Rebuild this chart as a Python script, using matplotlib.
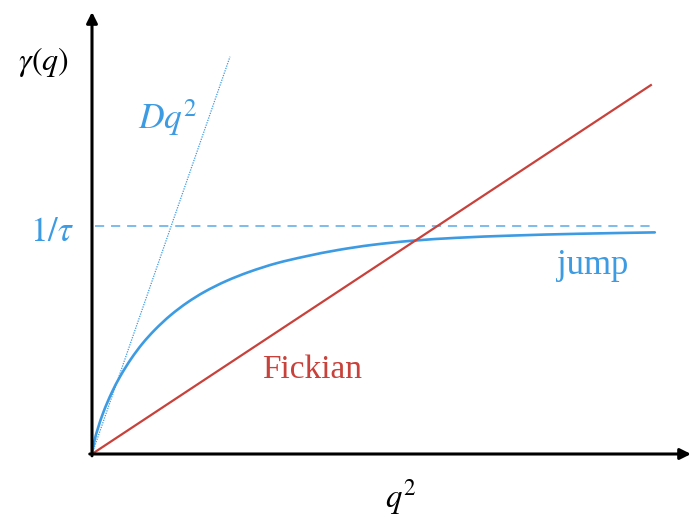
import matplotlib
matplotlib.use("Agg")
import matplotlib.pyplot as plt
import numpy as np
from matplotlib.path import Path
from matplotlib.patches import PathPatch

plt.rcParams["mathtext.fontset"] = "stix"

# Fickian and jump-diffusion relaxation rates gamma(q) vs q^2 (arbitrary units)
q2_jump = [0.0, 0.004, 0.01, 0.02, 0.035, 0.05, 0.07, 0.09, 0.112, 0.14,
           0.17, 0.2, 0.24, 0.28, 0.33, 0.38, 0.44, 0.5, 0.57, 0.65, 0.75,
           0.87, 1.005]
gamma_jump = [0.0, 0.054, 0.108, 0.181, 0.268, 0.339, 0.418, 0.484, 0.544,
              0.608, 0.664, 0.710, 0.759, 0.798, 0.837, 0.866, 0.895, 0.917,
              0.935, 0.948, 0.958, 0.966, 0.972]

q2_fick = [0.0, 0.998]
gamma_fick = [0.0, 1.618]

q2_dq2 = [0.0, 0.2464]
gamma_dq2 = [0.0, 1.7425]

inv_tau = 1.0
q2_tau = [0.005, 1.0]

BLUE = "#3c9be3"
RED = "#c8413a"


def smooth_path(x, y):
    """Cubic Bezier path through the points with monotone Hermite tangents."""
    x = np.asarray(x, float)
    y = np.asarray(y, float)
    h = np.diff(x)
    s = np.diff(y) / h
    m = np.empty_like(x)
    m[0], m[-1] = s[0], s[-1]
    for i in range(1, len(x) - 1):
        if s[i - 1] * s[i] <= 0:
            m[i] = 0.0
        else:
            w1, w2 = 2 * h[i] + h[i - 1], h[i] + 2 * h[i - 1]
            m[i] = (w1 + w2) / (w1 / s[i - 1] + w2 / s[i])
    verts = [(x[0], y[0])]
    codes = [Path.MOVETO]
    for i in range(len(x) - 1):
        d = h[i] / 3
        verts += [(x[i] + d, y[i] + d * m[i]),
                  (x[i + 1] - d, y[i + 1] - d * m[i + 1]),
                  (x[i + 1], y[i + 1])]
        codes += [Path.CURVE4] * 3
    return Path(verts, codes)


W, H = 691, 517
fig = plt.figure(figsize=(W / 100, H / 100), dpi=100)

x0, y0 = 92, 454          # origin (pixels)
sx, sy = 560.0, 228.0     # pixels per data unit
ax = fig.add_axes([x0 / W, (H - y0) / H, (W - x0) / W, (y0 - 12) / H])
xmax = (W - x0) / sx
ymax = (y0 - 12) / sy
ax.set_xlim(0, xmax)
ax.set_ylim(0, ymax)
ax.axis("off")
ax.patch.set_alpha(0)

ax.plot(q2_dq2, gamma_dq2, color=BLUE, lw=0.9, ls=(0, (1, 1)), clip_on=False)
ax.plot(q2_tau, [inv_tau, inv_tau], color=BLUE, lw=1.1, ls=(0, (6, 4.5)),
        alpha=0.85, clip_on=False)
ax.plot(q2_fick, gamma_fick, color=RED, lw=1.6, clip_on=False)
ax.add_patch(PathPatch(smooth_path(q2_jump, gamma_jump), fill=False,
                       edgecolor=BLUE, lw=1.9, capstyle="round",
                       clip_on=False))

# axes with arrow heads
arrow = dict(arrowstyle="-|>", lw=2.2, color="black", mutation_scale=16,
             shrinkA=0, shrinkB=0)
ax.annotate("", xy=(xmax, 0), xytext=(-0.004, 0), arrowprops=arrow,
            annotation_clip=False)
ax.annotate("", xy=(0, ymax), xytext=(0, -0.008), arrowprops=arrow,
            annotation_clip=False)

ax.text(-0.0875, 1.719, r"$\gamma(q)$", fontsize=23, ha="center", va="center")
ax.text(0.1357, 1.474, r"$Dq^2$", fontsize=25.5, color=BLUE, ha="center",
        va="center")
ax.text(-0.0714, 0.978, r"$1/\tau$", fontsize=25, color=BLUE, ha="center",
        va="center")
ax.text(0.552, -0.19, r"$q^2$", fontsize=23.5, ha="center", va="center")
ax.text(0.393, 0.368, "Fickian", fontsize=24, color=RED, ha="center",
        va="center", family="Liberation Serif")
ax.text(0.8946, 0.825, "jump", fontsize=25, color=BLUE, ha="center",
        va="center", family="Liberation Serif")

fig.savefig("out.png", dpi=100)
